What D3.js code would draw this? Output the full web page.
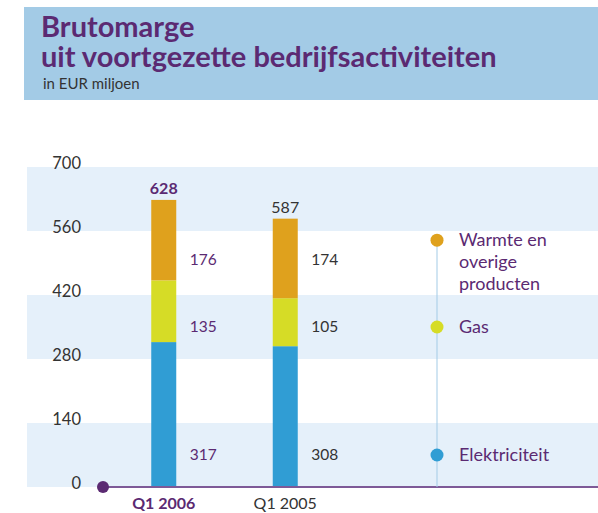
<!DOCTYPE html>
<html><head><meta charset="utf-8">
<script src="https://cdn.jsdelivr.net/npm/d3@7"></script>
<style>html,body{margin:0;padding:0;background:#fff;}svg{display:block;}</style>
</head><body>
<svg id="c" width="598" height="513"></svg>
<script>
const categories = ["Q1 2006", "Q1 2005"];
const seriesNames = ["Elektriciteit", "Gas", "Warmte en overige producten"];
const elektriciteit = [317, 308];
const gas = [135, 105];
const warmte = [176, 174];
const totals = [628, 587];
const yTicks = [0, 140, 280, 420, 560, 700];
const labelBandCenters = [70, 350, 497];   // value labels sit mid-band
const legendValues = [70, 350, 540];
const colors = ["#309dd4", "#d6dc26", "#dfa11d"];

const purple = "#5b2a72", grey = "#333333";
const font = "Lato, 'Open Sans', sans-serif";
const svg = d3.select("#c");

// header
svg.append("rect").attr("x", 24).attr("y", 7).attr("width", 574).attr("height", 93).attr("fill", "#a3cbe6");
const title = svg.append("text").attr("x", 41).attr("y", 37).attr("fill", purple).attr("font-family", font)
  .attr("font-weight", 700).attr("font-size", 29);
title.append("tspan").attr("x", 41).attr("dy", 0).text("Brutomarge");
title.append("tspan").attr("x", 41).attr("dy", 30).text("uit voortgezette bedrijfsactiviteiten");
svg.append("text").attr("x", 43).attr("y", 89).attr("fill", grey).attr("font-family", font)
  .attr("font-size", 15).text("in EUR miljoen");

const y = d3.scaleLinear().domain([0, 700]).range([487, 167]);
const x = d3.scaleBand().domain(categories).range([103, 346]).paddingInner(0).paddingOuter(0);
// bands
const bandPairs = [[0, 140], [280, 420], [560, 700]];
svg.append("g").selectAll("rect").data(bandPairs).join("rect")
  .attr("x", 27).attr("width", 571).attr("y", d => y(d[1])).attr("height", d => y(d[0]) - y(d[1]))
  .attr("fill", "#e5f0fa");

// y axis labels
const yAxis = d3.axisLeft(y).tickValues(yTicks).tickSize(0).tickPadding(0);
const gy = svg.append("g").attr("transform", "translate(81,-4)").call(yAxis);
gy.select(".domain").remove();
gy.selectAll("text").attr("font-family", font).attr("font-size", 16.5).attr("fill", grey);

// stacked bars
const rows = categories.map((c, i) => ({cat: c, e: elektriciteit[i], g: gas[i], w: warmte[i]}));
const stack = d3.stack().keys(["e", "g", "w"])(rows);
const barW = 25;
const cx = d => x(d) + x.bandwidth() / 2;
svg.append("g").selectAll("g").data(stack).join("g").attr("fill", (d, i) => colors[i])
  .selectAll("rect").data(d => d).join("rect")
  .attr("x", d => cx(d.data.cat) - barW / 2).attr("width", barW)
  .attr("y", d => y(d[1])).attr("height", d => y(d[0]) - y(d[1]));

// value labels
const seriesVals = [elektriciteit, gas, warmte];
seriesVals.forEach((vals, s) => {
  vals.forEach((v, i) => {
    svg.append("text").attr("x", cx(categories[i]) + 26).attr("y", y(labelBandCenters[s]))
      .attr("dy", "0.35em").attr("font-family", font).attr("font-size", 15.5)
      .attr("fill", i === 0 ? purple : grey).text(v);
  });
});
// totals
totals.forEach((t, i) => {
  svg.append("text").attr("x", cx(categories[i])).attr("y", y(t) - 6).attr("text-anchor", "middle")
    .attr("font-family", font).attr("font-size", 16).attr("font-weight", i === 0 ? 700 : 400)
    .attr("fill", i === 0 ? purple : grey).text(t);
});

// x axis
svg.append("line").attr("x1", 103).attr("x2", 598).attr("y1", 487).attr("y2", 487)
  .attr("stroke", "#7e5a97").attr("stroke-width", 2);
svg.append("circle").attr("cx", 103).attr("cy", 487).attr("r", 6).attr("fill", purple);
categories.forEach((c, i) => {
  svg.append("text").attr("x", cx(c)).attr("y", 509).attr("text-anchor", "middle")
    .attr("font-family", font).attr("font-size", 16).attr("font-weight", i === 0 ? 700 : 400)
    .attr("fill", i === 0 ? purple : grey).text(c);
});

// legend
const lx = 437;
svg.append("line").attr("x1", lx).attr("x2", lx).attr("y1", y(legendValues[2])).attr("y2", 487)
  .attr("stroke", "#a3cbe6").attr("stroke-width", 1);
const legendLines = [["Elektriciteit"], ["Gas"], ["Warmte en", "overige", "producten"]];
legendValues.forEach((v, s) => {
  svg.append("circle").attr("cx", lx).attr("cy", y(v)).attr("r", 6.5).attr("fill", colors[s]);
  const t = svg.append("text").attr("x", 459).attr("y", y(v))
    .attr("font-family", font).attr("font-size", 18).attr("fill", purple);
  legendLines[s].forEach((l, k) => t.append("tspan").attr("x", 459).attr("dy", k === 0 ? "0.35em" : 22).text(l));
});
</script>
</body></html>
